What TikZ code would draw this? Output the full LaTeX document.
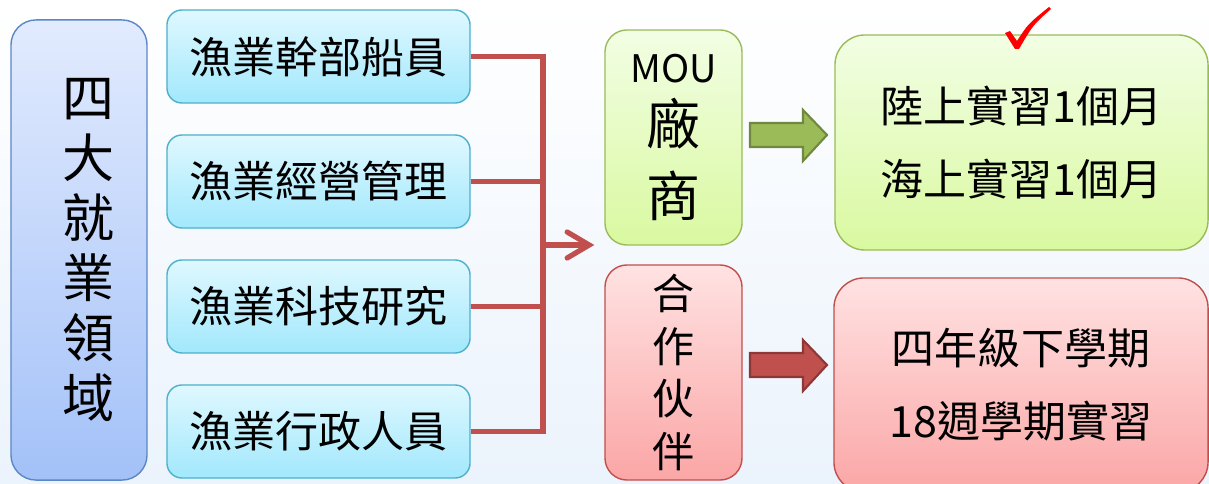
\documentclass[tikz,border=0pt]{standalone}
\usepackage{fontspec}
\setmainfont{Noto Sans CJK TC}
\usepackage{xcolor}
\usepackage{tikz}
\usetikzlibrary{positioning, arrows.meta, calc}
\definecolor{areatop}{HTML}{E2EBFE}
\definecolor{areabot}{HTML}{A3C1F8}
\definecolor{arealine}{HTML}{5C87C6}
\definecolor{jobtop}{HTML}{DFF8FF}
\definecolor{jobbot}{HTML}{A2E8FC}
\definecolor{jobline}{HTML}{4DB0CC}
\definecolor{grtop}{HTML}{F2FEE4}
\definecolor{grbot}{HTML}{D9F9A0}
\definecolor{grline}{HTML}{9BBB59}
\definecolor{pktop}{HTML}{FFE2E2}
\definecolor{pkbot}{HTML}{FBA6A6}
\definecolor{pkline}{HTML}{C0504D}
\definecolor{linkred}{HTML}{C0504D}
\definecolor{grdark}{HTML}{71893F}
\definecolor{pkdark}{HTML}{8C3836}
\definecolor{bgbot}{HTML}{EBF3FC}
\tikzstyle{ar}=[%
      rectangle, rounded corners=0.625cm, draw=arealine, line width=1pt, top color=areatop, bottom color=areabot,
      minimum width=3.4cm, minimum height=11.5cm, inner sep=0pt
]
\tikzstyle{jb}=[%
      rectangle, rounded corners=0.375cm, draw=jobline, line width=1pt, top color=jobtop, bottom color=jobbot,
      minimum width=7.575cm, minimum height=2.325cm, inner sep=0pt, font=\fontsize{30.6}{36}\selectfont
]
\tikzstyle{gr}=[%
      rectangle, draw=grline, line width=1pt, top color=grtop, bottom color=grbot,
      inner sep=0pt, align=center
]
\tikzstyle{pk}=[%
      rectangle, draw=pkline, line width=1pt, top color=pktop, bottom color=pkbot,
      inner sep=0pt, align=center
]
\tikzstyle{lk}=[%
      draw=linkred, line width=0.13cm
]

\begin{document}
\begin{tikzpicture}[x=0.025cm, y=-0.025cm,
    >=stealth
  ]
    \clip (0,0) rectangle (1209,484);
    \shade[top color=white, middle color=white, bottom color=bgbot] (0,0) rectangle (1209,484);

    % four fields
    \node[ar] (field) at (79,250) {};
    \node[align=center, font=\fontsize{37}{42.6}\selectfont] (fieldtxt) at ([xshift=0.25cm]field.center) {四\\大\\就\\業\\領\\域};

    \node[jb] (j1) at (318.5,56.5)  {漁業幹部船員};
    \node[jb] (j2) at (318.5,181.5) {漁業經營管理};
    \node[jb] (j3) at (318.5,306.5) {漁業科技研究};
    \node[jb] (j4) at (318.5,431.5) {漁業行政人員};

    % partners
    \node[gr, rounded corners=0.55cm, minimum width=3.425cm, minimum height=5.375cm,
          font=\fontsize{38.4}{51.2}\selectfont] (mou) at (673.5,137.5)
          {{\fontsize{27}{27}\selectfont MOU}\\[-6.7pt]廠\\商};
    \node[pk, rounded corners=0.55cm, minimum width=3.425cm, minimum height=5.375cm,
          font=\fontsize{29.9}{37.5}\selectfont] (ptn) at (673.5,372.5)
          {合\\作\\伙\\伴};

    % internships
    \node[gr, rounded corners=0.75cm, minimum width=9.325cm, minimum height=5.375cm,
          font=\fontsize{30.6}{52}\selectfont] (land) at (1021.5,142.5)
          {陸上實習1個月\\海上實習1個月};
    \node[pk, rounded corners=0.75cm, minimum width=9.35cm, minimum height=5.35cm,
          font=\fontsize{30.6}{52}\selectfont] (term) at (1021,385)
          {四年級下學期\\18週學期實習};

    % links
    \coordinate (bus) at (543,245);
    \foreach \j in {j1,j2,j3,j4}
      \draw[lk] (\j.east) -| (bus);
    \draw[lk, -{Straight Barb[length=0.55cm, width=0.65cm, line cap=round]}, shorten >=0.25cm]
      (bus) -- (bus -| mou.west);

    % block arrows
    \foreach \y/\c/\d in {135/grline/grdark, 365/linkred/pkdark}
      \draw[draw=\d, fill=\c, line width=1.5pt] (750,\y-12) -- (803,\y-12) -- (803,\y-25) -- (827,\y)
        -- (803,\y+26) -- (803,\y+12) -- (750,\y+12) -- cycle;

    % check mark
    \fill[red] (1005,33) -- (1010,31) -- (1017,41) .. controls (1028,24) .. (1049,7)
      -- (1051,9) .. controls (1033,25) .. (1019,49) -- (1015,49) -- cycle;

  \end{tikzpicture}
\end{document}
